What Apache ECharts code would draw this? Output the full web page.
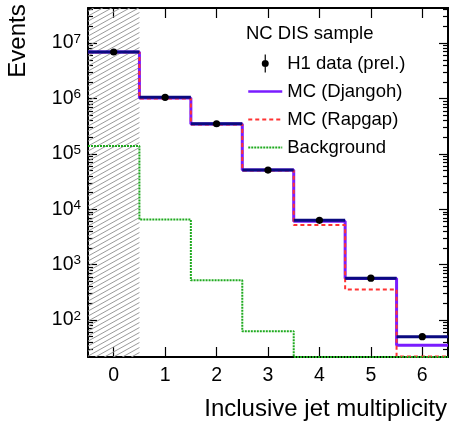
<!DOCTYPE html>
<html>
<head>
<meta charset="utf-8">
<script src="https://cdn.jsdelivr.net/npm/echarts@6/dist/echarts.min.js"></script>
<style>
html,body{margin:0;padding:0;background:#fff;}
#chart{width:449px;height:421px;}
</style>
</head>
<body>
<div id="chart"></div>
<script>
// ---- data ----
const categories = [0, 1, 2, 3, 4, 5, 6];
const h1Data     = [6.9e6, 1.05e6, 3.5e5, 5.1e4, 6.3e3, 570, 50];
const djangoh    = [6.9e6, 1.02e6, 3.45e5, 5.1e4, 6.1e3, 560, 35];
const rapgap     = [6.8e6, 1.0e6, 3.4e5, 5.0e4, 5.2e3, 355, 22];
const background = [1.39e5, 6.5e3, 520, 63, 0, 0, 0];
const xTicks = [0, 1, 2, 3, 4, 5, 6];
const yMajor = [1e2, 1e3, 1e4, 1e5, 1e6, 1e7];
const yMin = 21.5, yMax = 4.3e7;

const FONT = 'Liberation Sans, Arial, Helvetica, sans-serif';

// minor ticks 2..9 x 10^n inside range
const yMinor = [];
for (let e = 1; e <= 7; e++) {
  for (let m = 2; m <= 9; m++) {
    const v = m * Math.pow(10, e);
    if (v > yMin && v < yMax) yMinor.push(v);
  }
}

function stepData(vals) {
  const d = vals.map((v, i) => [categories[i] - 0.5, Math.max(v, yMin)]);
  const last = categories.length - 1;
  d.push([categories[last] + 0.5, Math.max(vals[last], yMin)]);
  return d;
}

// hatch pattern
const hc = document.createElement('canvas');
const tw = 9, th = 5;
hc.width = tw; hc.height = th;
const g = hc.getContext('2d');
g.strokeStyle = '#9a9a9a';
g.lineWidth = 1;
for (let k = -1; k <= 1; k++) {
  g.beginPath();
  g.moveTo(-tw, 2 * th + k * th);
  g.lineTo(2 * tw, -th + k * th);
  g.stroke();
}

const chart = echarts.init(document.getElementById('chart'), null, {renderer: 'canvas'});

const dataIcon = 'path://M0,0 L0.01,0 L0.01,0.01 Z M34,18 L33.99,18 L33.99,17.99 Z ' +
  'M16.4,0 L17.6,0 L17.6,18 L16.4,18 Z ' +
  'M13.5,9 A3.5,3.5 0 1 1 20.5,9 A3.5,3.5 0 1 1 13.5,9 Z';

function yLog(min, max, pos, ticks, len, labels) {
  return {
    type: 'log', min: min, max: max, position: pos, logBase: 10,
    axisLine: {show: !!labels || pos === 'right' ? true : false, onZero: false, lineStyle: {color: '#000', width: 2}},
    axisTick: {show: true, inside: true, length: len, customValues: ticks, lineStyle: {color: '#000', width: 1.2}},
    axisLabel: labels ? {
      show: true, customValues: yMajor, margin: 7,
      formatter: function (v) { return '{b|10}{s|' + Math.round(Math.log10(v)) + '}'; },
      rich: {
        b: {fontSize: 19.5, fontFamily: FONT, color: '#000', lineHeight: 22},
        s: {fontSize: 13.5, fontFamily: FONT, color: '#000', verticalAlign: 'top', lineHeight: 14, padding: [0, 0, 8, 0]}
      }
    } : {show: false},
    splitLine: {show: false}, minorTick: {show: false}
  };
}

const option = {
  animation: false,
  backgroundColor: '#fff',
  grid: {left: 88, right: 1, top: 8, bottom: 64, containLabel: false},
  title: {
    text: 'NC DIS sample', left: 246, top: 24, padding: 0,
    textStyle: {fontSize: 18.5, fontWeight: 'normal', color: '#000', fontFamily: FONT}
  },
  legend: {
    orient: 'vertical', left: 247, top: 54, padding: 0,
    itemWidth: 34, itemHeight: 18, itemGap: 9, selectedMode: false,
    textStyle: {fontSize: 18.5, color: '#000', fontFamily: FONT},
    data: [
      {name: 'H1 data (prel.)', icon: dataIcon, itemStyle: {color: '#000'}},
      {name: 'MC (Djangoh)', itemStyle: {opacity: 0}, lineStyle: {width: 2.5}},
      {name: 'MC (Rapgap)', itemStyle: {opacity: 0}, lineStyle: {width: 2}},
      {name: 'Background', itemStyle: {opacity: 0}, lineStyle: {width: 2}}
    ]
  },
  xAxis: [
    {
      type: 'value', min: -0.5, max: 6.5, position: 'bottom',
      axisLine: {show: true, onZero: false, lineStyle: {color: '#000', width: 2}},
      axisTick: {show: true, inside: true, length: 10, customValues: xTicks, lineStyle: {color: '#000', width: 1.2}},
      axisLabel: {show: true, customValues: xTicks, fontSize: 19.5, fontFamily: FONT, color: '#000', margin: 9},
      splitLine: {show: false}
    },
    {
      type: 'value', min: -0.5, max: 6.5, position: 'top',
      axisLine: {show: true, onZero: false, lineStyle: {color: '#000', width: 2}},
      axisTick: {show: true, inside: true, length: 10, customValues: xTicks, lineStyle: {color: '#000', width: 1.2}},
      axisLabel: {show: false}, splitLine: {show: false}
    }
  ],
  yAxis: [
    yLog(yMin, yMax, 'left', yMajor, 9, true),
    yLog(yMin, yMax, 'left', yMinor, 5, false),
    yLog(yMin, yMax, 'right', yMajor, 9, false),
    yLog(yMin, yMax, 'right', yMinor, 5, false)
  ],
  graphic: [
    {type: 'text', x: 18, y: 41, rotation: Math.PI / 2, z: 10,
     style: {text: 'Events', fontSize: 24, fontFamily: FONT, fill: '#000',
             align: 'center', verticalAlign: 'middle', textAlign: 'center', textVerticalAlign: 'middle'}},
    {type: 'text', x: 447, y: 409, z: 10,
     style: {text: 'Inclusive jet multiplicity', fontSize: 24, fontFamily: FONT, fill: '#000',
             align: 'right', verticalAlign: 'middle', textAlign: 'right', textVerticalAlign: 'middle'}}
  ],
  series: [
    {
      name: 'MC (Djangoh)', type: 'line', step: 'end', xAxisIndex: 0, yAxisIndex: 0,
      data: stepData(djangoh), symbol: 'none', z: 2,
      lineStyle: {color: '#7a1cff', width: 3}, itemStyle: {color: '#7a1cff'},
      markArea: {
        silent: true, z: 1,
        itemStyle: {color: {image: hc, repeat: 'repeat'}},
        data: [[{xAxis: categories[0] - 0.5}, {xAxis: categories[0] + 0.5}]]
      }
    },
    {
      name: 'MC (Rapgap)', type: 'line', step: 'end', xAxisIndex: 0, yAxisIndex: 0,
      data: stepData(rapgap), symbol: 'none', z: 3,
      lineStyle: {color: '#ff3333', width: 2, type: [4, 3]}, itemStyle: {color: '#ff3333'}
    },
    {
      name: 'Background', type: 'line', step: 'end', xAxisIndex: 0, yAxisIndex: 0,
      data: stepData(background), symbol: 'none', z: 3,
      lineStyle: {color: '#1faa1f', width: 2, type: [2, 1]}, itemStyle: {color: '#1faa1f'}
    },
    {
      name: 'H1 data (prel.)', type: 'custom', xAxisIndex: 0, yAxisIndex: 0, z: 5,
      itemStyle: {color: '#000'},
      data: categories.map((c, i) => [c, h1Data[i]]),
      renderItem: function (params, api) {
        const x = api.value(0), y = api.value(1);
        const p = api.coord([x, y]);
        const l = api.coord([x - 0.5, y]);
        const r = api.coord([x + 0.5, y]);
        return {
          type: 'group',
          children: [
            {type: 'line', shape: {x1: l[0], y1: l[1], x2: r[0], y2: r[1]},
             style: {stroke: '#0a0a80', lineWidth: 3}},
            {type: 'circle', shape: {cx: p[0], cy: p[1], r: 3.6}, style: {fill: '#000'}}
          ]
        };
      }
    }
  ]
};
chart.setOption(option);
</script>
</body>
</html>
